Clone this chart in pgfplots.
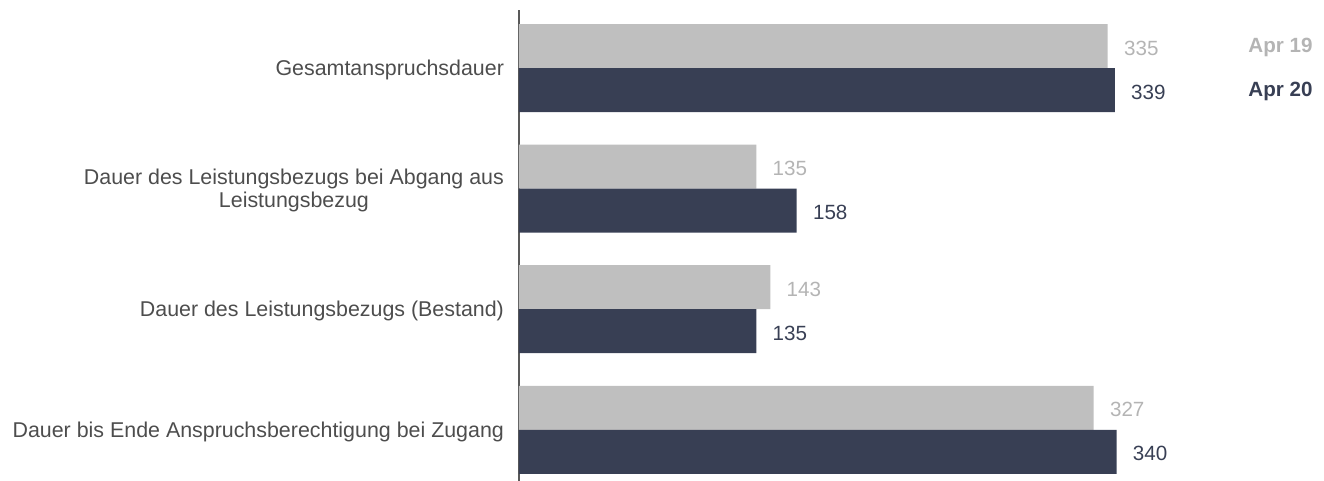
\documentclass[border=0pt]{standalone}
\usepackage{fontspec}
\setmainfont{Liberation Sans}
\usepackage{pgfplots}
\pgfplotsset{compat=1.18}

\definecolor{barGray}{HTML}{BFBFBF}
\definecolor{barDark}{HTML}{383F54}
\definecolor{lblGray}{HTML}{B4B4B4}
\definecolor{txtGray}{HTML}{4D4D4D}
\definecolor{axisGray}{HTML}{595959}

\begin{document}
\begin{tikzpicture}[font=\fontsize{10.3}{11.5}\selectfont]
  \useasboundingbox (-259.5pt,0pt) rectangle (402.5pt,240.5pt);
  \begin{axis}[
      at={(0pt,0pt)}, anchor=south west,
      scale only axis,
      width=351.5pt, height=235.5pt,
      xbar, bar width=22pt,
      xmin=0, xmax=400,
      ymin=-0.425, ymax=3.483,
      axis x line=none,
      axis y line=left,
      axis line style={-, draw=axisGray, line width=1pt},
      ytick={0,1,2,3},
      yticklabels={Dauer bis Ende Anspruchsberechtigung bei Zugang,
                   Dauer des Leistungsbezugs (Bestand),
                   {Dauer des Leistungsbezugs bei Abgang aus\\Leistungsbezug},
                   Gesamtanspruchsdauer},
      yticklabel style={text=txtGray, align=center, anchor=east, xshift=-4pt, yshift=-1pt,
                        font=\fontsize{10.7}{11.5}\selectfont},
      major tick length=0pt,
      /pgf/number format/assume math mode=true,
      nodes near coords,
      nodes near coords style={anchor=west, inner sep=0pt, xshift=8pt, yshift=-1pt},
      clip=false,
    ]
    \addplot[draw=none, fill=barGray, bar shift=11pt,
             nodes near coords style={text=lblGray}]
      coordinates {(327,0) (143,1) (135,2) (335,3)};
    \addplot[draw=none, fill=barDark, bar shift=-11pt,
             nodes near coords style={text=barDark}]
      coordinates {(340,0) (135,1) (158,2) (339,3)};
  \end{axis}
  \node[anchor=west, inner sep=0pt, text=lblGray, font=\fontsize{10.3}{11.5}\selectfont\bfseries] at (364.5pt,217pt) {Apr 19};
  \node[anchor=west, inner sep=0pt, text=barDark, font=\fontsize{10.3}{11.5}\selectfont\bfseries] at (364.5pt,195pt) {Apr 20};
\end{tikzpicture}
\end{document}
